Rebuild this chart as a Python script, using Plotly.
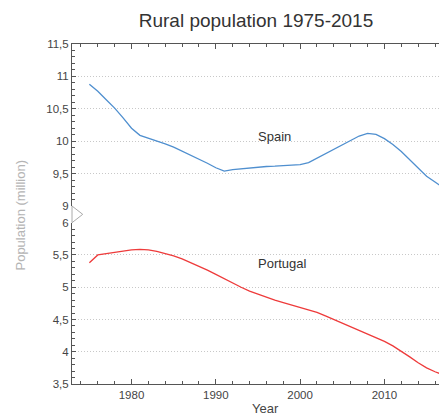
import plotly.graph_objects as go

years = list(range(1975, 2018))
spain = [10.88, 10.77, 10.64, 10.51, 10.36, 10.20, 10.09, 10.05, 10.00, 9.96,
         9.91, 9.85, 9.79, 9.73, 9.66, 9.59, 9.54, 9.56, 9.575, 9.59,
         9.60, 9.61, 9.615, 9.62, 9.63, 9.64, 9.67, 9.74, 9.81, 9.88,
         9.94, 10.01, 10.08, 10.12, 10.105, 10.04, 9.95, 9.84, 9.71, 9.58,
         9.46, 9.37, 9.28]
portugal = [5.38, 5.50, 5.52, 5.54, 5.56, 5.58, 5.587, 5.58, 5.555, 5.525,
            5.485, 5.44, 5.385, 5.33, 5.265, 5.20, 5.13, 5.06, 5.00, 4.94,
            4.89, 4.84, 4.80, 4.76, 4.72, 4.685, 4.65, 4.61, 4.555, 4.50,
            4.445, 4.385, 4.33, 4.275, 4.22, 4.16, 4.09, 4.01, 3.92, 3.83,
            3.75, 3.69, 3.64]
x_ticks = [1980, 1990, 2000, 2010]

FONT = "Liberation Sans, Arial, sans-serif"
AX = "#555555"
TXT = "#444444"

fig = go.Figure()
fig.add_trace(go.Scatter(x=years, y=spain, mode="lines", name="Spain",
                         xaxis="x2", yaxis="y",
                         line=dict(color="#4f8fcf", width=1.3)))
fig.add_trace(go.Scatter(x=years, y=portugal, mode="lines", name="Portugal",
                         xaxis="x", yaxis="y2",
                         line=dict(color="#ee3b3b", width=1.3)))

xr = [1972.94, 2018.37]
common_y = dict(showline=True, linecolor=AX, linewidth=1,
                ticks="inside", ticklen=4, tickcolor=AX, dtick=0.5,
                tickfont=dict(family=FONT, size=11.5, color=TXT),
                showgrid=True, gridcolor="#c8c8c8", griddash="1px,2px", gridwidth=1,
                zeroline=False,
                minor=dict(dtick=0.1, ticks="inside", ticklen=2.5, tickcolor=AX, showgrid=False))
common_x = dict(range=xr, showline=True, linecolor=AX, linewidth=1,
                ticks="inside", ticklen=5, tickcolor=AX,
                tickvals=x_ticks, showgrid=False, zeroline=False,
                minor=dict(dtick=2, tick0=1970, ticks="inside", ticklen=3, tickcolor=AX, showgrid=False))

fig.update_layout(
    width=447, height=416,
    margin=dict(l=64, r=0, t=36, b=40),
    paper_bgcolor="white", plot_bgcolor="white",
    showlegend=False,
    separators=", ",
    title=dict(text="Rural population 1975-2015", x=248 / 447, xref="container",
               xanchor="center", y=1 - 12 / 416, yanchor="middle",
               font=dict(family=FONT, size=19, color="#333333")),
    xaxis=dict(anchor="y2", side="bottom",
               tickfont=dict(family=FONT, size=11.5, color=TXT), **common_x),
    xaxis2=dict(anchor="y", side="top", matches="x", showticklabels=False, **common_x),
    yaxis=dict(domain=[0.5235, 1.0], range=[9, 11.5], anchor="x2", **common_y),
    yaxis2=dict(domain=[0.0, 0.4744], range=[3.5, 6], anchor="x", **common_y),
    annotations=[
        dict(text="Spain", x=1997.0, y=10.08, xref="x2", yref="y", showarrow=False,
             font=dict(family=FONT, size=13, color="#333333")),
        dict(text="Portugal", x=1997.9, y=5.37, xref="x", yref="y2", showarrow=False,
             font=dict(family=FONT, size=13, color="#333333")),
        dict(text="Year", x=0.5065, y=-0.071, xref="paper", yref="paper", showarrow=False,
             yanchor="middle", font=dict(family=FONT, size=13, color=TXT)),
        dict(text="Population (million)", x=-0.1345, y=0.497,
             xref="paper", yref="paper", xanchor="center", yanchor="middle",
             textangle=-90, showarrow=False,
             font=dict(family=FONT, size=13, color="#b4b4b4")),
    ],
    shapes=[
        dict(type="line", xref="paper", yref="paper", x0=0, x1=0,
             y0=0.4744, y1=0.5235, line=dict(color="#aaaaaa", width=1)),
        dict(type="path", xref="paper", yref="paper",
             path="M 0 0.5235 L 0.028 0.4990 L 0 0.4744",
             line=dict(color="#aaaaaa", width=1)),
    ],
)

fig.write_html("out.html")
